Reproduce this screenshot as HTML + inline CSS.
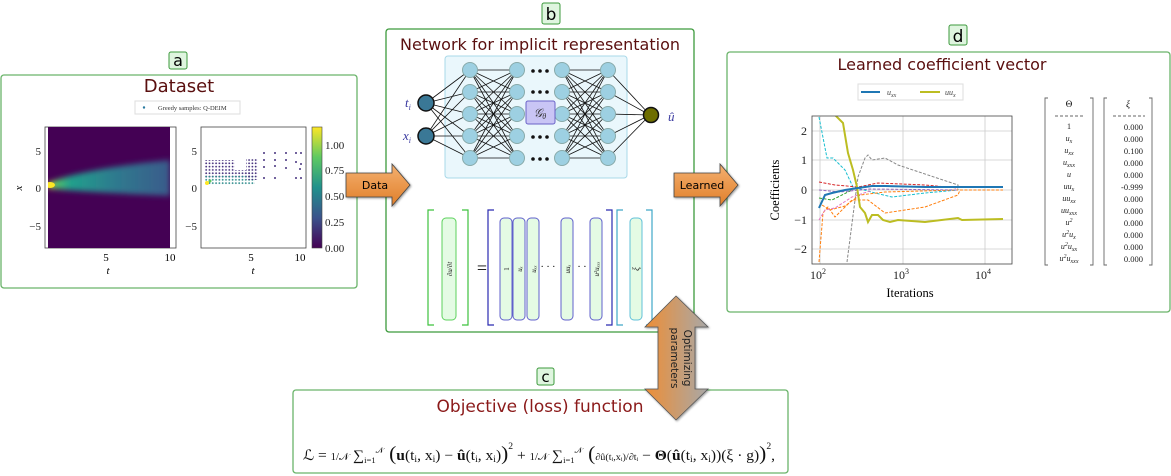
<!DOCTYPE html>
<html><head><meta charset="utf-8"><style>
html,body{margin:0;padding:0;background:#fff}
svg{display:block}
text{font-family:"Liberation Serif",serif}
.s{font-family:"DejaVu Sans","Liberation Sans",sans-serif}
</style></head><body>
<svg width="1171" height="476" viewBox="0 0 1171 476" xmlns="http://www.w3.org/2000/svg">
<defs>
<linearGradient id="og" x1="0" y1="0" x2="0" y2="1"><stop offset="0" stop-color="#f4b070"/><stop offset="1" stop-color="#e07f2a"/></linearGradient>
<linearGradient id="dg" x1="0" y1="0" x2="1" y2="0"><stop offset="0" stop-color="#ee8e35"/><stop offset="1" stop-color="#a8a8a8"/></linearGradient>
<linearGradient id="plume" x1="0" y1="0" x2="1" y2="0"><stop offset="0" stop-color="#fde725"/><stop offset="0.05" stop-color="#5ec962"/><stop offset="0.18" stop-color="#21a08c"/><stop offset="0.55" stop-color="#2e7a8e"/><stop offset="1" stop-color="#3b5b8b"/></linearGradient>
<linearGradient id="cb" x1="0" y1="1" x2="0" y2="0"><stop offset="0" stop-color="#440154"/><stop offset="0.25" stop-color="#3b528b"/><stop offset="0.5" stop-color="#21918c"/><stop offset="0.75" stop-color="#5ec962"/><stop offset="1" stop-color="#fde725"/></linearGradient>
<filter id="bl" x="-20%" y="-50%" width="140%" height="200%"><feGaussianBlur stdDeviation="3"/></filter>
<pattern id="dp" width="3.3" height="3.3" patternUnits="userSpaceOnUse"><circle cx="1.6" cy="1.6" r="0.9" fill="#46327e"/></pattern>
<pattern id="dp2" width="3.3" height="3.3" patternUnits="userSpaceOnUse"><circle cx="1.6" cy="1.6" r="0.9" fill="#2c8a8a"/></pattern>
<filter id="sh"><feDropShadow dx="1" dy="1" stdDeviation="1" flood-opacity="0.4"/></filter>
</defs>

<!-- Panel a -->
<rect x="1" y="75" width="356" height="213" rx="3" fill="#fff" stroke="#6ab46a" stroke-width="1.3"/>
<rect x="169" y="52" width="18" height="17" rx="2" fill="#dff5df" stroke="#3c9a3c"/>
<text x="178" y="66" class="s" font-size="16" text-anchor="middle">a</text>
<text x="179" y="92" class="s" font-size="18" fill="#5a0f0f" text-anchor="middle">Dataset</text>
<rect x="135" y="101" width="105" height="13" fill="#fff" stroke="#ddd"/>
<circle cx="144" cy="107.5" r="1.2" fill="#2a7aa0"/>
<text x="158" y="110" font-size="6.5" fill="#333">Greedy samples: Q-DEIM</text>
<rect x="45" y="127" width="131" height="121" fill="#fff" stroke="#444" stroke-width="0.8"/>
<rect x="48" y="127" width="122" height="121" fill="#440154"/>
<clipPath id="c1"><rect x="48" y="127" width="122" height="121"/></clipPath>
<g clip-path="url(#c1)">
<path d="M48,183 C70,174 110,166 170,160 L170,196 C110,193 70,191 48,188 Z" fill="url(#plume)" filter="url(#bl)"/>
<ellipse cx="50" cy="185" rx="5" ry="3" fill="#fde725"/>
</g>
<g font-size="11" fill="#222" text-anchor="end">
<text x="41" y="155">5</text><text x="41" y="192">0</text><text x="41" y="230">−5</text>
</g>
<text x="106" y="261" font-size="11" text-anchor="middle">5</text>
<text x="170" y="261" font-size="11" text-anchor="middle">10</text>
<text x="108" y="274" font-size="11" font-style="italic" text-anchor="middle">t</text>
<text x="22" y="188" font-size="11" font-style="italic" transform="rotate(-90 22 188)" text-anchor="middle">x</text>
<rect x="201" y="127" width="105" height="121" fill="#fff" stroke="#444" stroke-width="0.8"/>
<rect x="205" y="160" width="30" height="10" fill="url(#dp)"/>
<rect x="205" y="170" width="45" height="8" fill="url(#dp)"/>
<rect x="205" y="176" width="50" height="9" fill="url(#dp2)"/>
<rect x="246" y="159" width="12" height="21" fill="url(#dp)"/>
<g fill="#46327e">
<circle cx="264" cy="153" r="1"/><circle cx="275" cy="153" r="1"/><circle cx="286" cy="153" r="1"/><circle cx="296" cy="153" r="1"/><circle cx="301" cy="153" r="1"/>
<circle cx="264" cy="160" r="1"/><circle cx="275" cy="160" r="1"/><circle cx="286" cy="160" r="1"/><circle cx="296" cy="162" r="1"/><circle cx="301" cy="164" r="1"/>
<circle cx="264" cy="167" r="1"/><circle cx="275" cy="166" r="1"/><circle cx="286" cy="168" r="1"/><circle cx="300" cy="169" r="1"/>
<circle cx="264" cy="178" r="1"/><circle cx="275" cy="178" r="1"/><circle cx="296" cy="178" r="1"/><circle cx="301" cy="178" r="1"/>
</g>
<circle cx="207" cy="183" r="2" fill="#fde725"/><circle cx="210" cy="181" r="1.5" fill="#5ec962"/>
<g font-size="11" fill="#222" text-anchor="end">
<text x="197" y="155">5</text><text x="197" y="192">0</text><text x="197" y="230">−5</text>
</g>
<text x="251" y="261" font-size="11" text-anchor="middle">5</text>
<text x="300" y="261" font-size="11" text-anchor="middle">10</text>
<text x="253" y="274" font-size="11" font-style="italic" text-anchor="middle">t</text>
<rect x="312" y="127" width="10" height="121" fill="url(#cb)" stroke="#444" stroke-width="0.6"/>
<g font-size="11" fill="#222">
<text x="325" y="149">1.00</text><text x="325" y="174">0.75</text><text x="325" y="200">0.50</text><text x="325" y="226">0.25</text><text x="325" y="252">0.00</text>
</g>

<!-- Panel b -->
<rect x="386" y="29" width="308" height="303" rx="3" fill="#fff" stroke="#3c9a3c" stroke-width="1.3"/>
<rect x="542" y="3" width="18" height="21" rx="2" fill="#dff5df" stroke="#3c9a3c"/>
<text x="551" y="20" class="s" font-size="17" text-anchor="middle">b</text>
<text x="540" y="50" class="s" font-size="16" fill="#5a0f0f" text-anchor="middle">Network for implicit representation</text>
<rect x="445" y="56" width="182" height="122" rx="3" fill="#eaf7fc" stroke="#a8d8e8"/>
<g stroke="#111" stroke-width="0.8">
<path d="M426,103 L470,70 M426,103 L470,92 M426,103 L470,114 M426,103 L470,136 M426,103 L470,158 M426,136 L470,70 M426,136 L470,92 M426,136 L470,114 M426,136 L470,136 M426,136 L470,158"/>
<path d="M470,70 L517,70 M470,70 L517,92 M470,70 L517,114 M470,70 L517,136 M470,70 L517,158 M470,92 L517,70 M470,92 L517,92 M470,92 L517,114 M470,92 L517,136 M470,92 L517,158 M470,114 L517,70 M470,114 L517,92 M470,114 L517,114 M470,114 L517,136 M470,114 L517,158 M470,136 L517,70 M470,136 L517,92 M470,136 L517,114 M470,136 L517,136 M470,136 L517,158 M470,158 L517,70 M470,158 L517,92 M470,158 L517,114 M470,158 L517,136 M470,158 L517,158"/>
<path d="M562,70 L608,70 M562,70 L608,92 M562,70 L608,114 M562,70 L608,136 M562,70 L608,158 M562,92 L608,70 M562,92 L608,92 M562,92 L608,114 M562,92 L608,136 M562,92 L608,158 M562,114 L608,70 M562,114 L608,92 M562,114 L608,114 M562,114 L608,136 M562,114 L608,158 M562,136 L608,70 M562,136 L608,92 M562,136 L608,114 M562,136 L608,136 M562,136 L608,158 M562,158 L608,70 M562,158 L608,92 M562,158 L608,114 M562,158 L608,136 M562,158 L608,158"/>
<path d="M608,70 L650,115 M608,92 L650,115 M608,114 L650,115 M608,136 L650,115 M608,158 L650,115"/>
</g>
<g fill="#9dd0e2" stroke="#8aa" stroke-width="1">
<circle cx="470" cy="70" r="7.5"/><circle cx="470" cy="92" r="7.5"/><circle cx="470" cy="114" r="7.5"/><circle cx="470" cy="136" r="7.5"/><circle cx="470" cy="158" r="7.5"/>
<circle cx="517" cy="70" r="7.5"/><circle cx="517" cy="92" r="7.5"/><circle cx="517" cy="114" r="7.5"/><circle cx="517" cy="136" r="7.5"/><circle cx="517" cy="158" r="7.5"/>
<circle cx="562" cy="70" r="7.5"/><circle cx="562" cy="92" r="7.5"/><circle cx="562" cy="114" r="7.5"/><circle cx="562" cy="136" r="7.5"/><circle cx="562" cy="158" r="7.5"/>
<circle cx="608" cy="70" r="7.5"/><circle cx="608" cy="92" r="7.5"/><circle cx="608" cy="114" r="7.5"/><circle cx="608" cy="136" r="7.5"/><circle cx="608" cy="158" r="7.5"/>
</g>
<g fill="#111"><circle cx="533" cy="71" r="1.8"/><circle cx="540" cy="71" r="1.8"/><circle cx="547" cy="71" r="1.8"/>
<circle cx="533" cy="92" r="1.8"/><circle cx="540" cy="92" r="1.8"/><circle cx="547" cy="92" r="1.8"/>
<circle cx="533" cy="137" r="1.8"/><circle cx="540" cy="137" r="1.8"/><circle cx="547" cy="137" r="1.8"/>
<circle cx="533" cy="159" r="1.8"/><circle cx="540" cy="159" r="1.8"/><circle cx="547" cy="159" r="1.8"/></g>
<rect x="526" y="101" width="29" height="23" rx="2" fill="#c9c5f5" stroke="#6a62c8"/>
<text x="540" y="117" font-size="12" font-style="italic" fill="#333" text-anchor="middle">𝒢<tspan font-size="8" dy="2">θ</tspan></text>
<circle cx="426" cy="103" r="8" fill="#3a7896" stroke="#111" stroke-width="1.5"/>
<circle cx="426" cy="136" r="8" fill="#3a7896" stroke="#111" stroke-width="1.5"/>
<circle cx="651" cy="115" r="7.5" fill="#6e6e00" stroke="#111" stroke-width="1.5"/>
<text x="405" y="107" font-size="13" font-style="italic" fill="#3a3aa0">t<tspan font-size="8" dy="3">i</tspan></text>
<text x="403" y="140" font-size="13" font-style="italic" fill="#3a3aa0">x<tspan font-size="8" dy="3">i</tspan></text>
<text x="668" y="121" font-size="13" font-style="italic" fill="#3a3aa0">û</text>
<g fill="none" stroke-width="1.2">
<path d="M434,210 H428 V325 H434 M462,210 H468 V325 H462" stroke="#3ec23e"/>
<path d="M494,210 H488 V325 H494 M606,210 H612 V325 H606" stroke="#2a2ab0"/>
<path d="M623,210 H617 V325 H623 M646,210 H652 V325 H646" stroke="#40a8c8"/>
</g>
<rect x="442" y="218" width="14" height="102" rx="4" fill="#e4fbe4" stroke="#5cd25c"/>
<g fill="#e4fbe4" stroke="#6060cc">
<rect x="500" y="218" width="12" height="102" rx="4"/><rect x="513" y="218" width="12" height="102" rx="4"/><rect x="527" y="218" width="12" height="102" rx="4"/>
<rect x="561" y="218" width="12" height="102" rx="4"/><rect x="590" y="218" width="12" height="102" rx="4"/>
</g>
<rect x="630" y="218" width="12" height="102" rx="4" fill="#e4fbe4" stroke="#60c0d8"/>
<text x="482" y="274" font-size="18" text-anchor="middle">=</text>
<text x="548" y="270" font-size="10" text-anchor="middle">· · ·</text>
<text x="582" y="270" font-size="10" text-anchor="middle">· ·</text>
<g font-size="7" font-style="italic" fill="#222">
<text transform="translate(452,269) rotate(-90)" text-anchor="middle">∂u/∂t</text>
<text transform="translate(509,269) rotate(-90)" text-anchor="middle" font-style="normal">1</text>
<text transform="translate(522,269) rotate(-90)" text-anchor="middle">uₓ</text>
<text transform="translate(536,269) rotate(-90)" text-anchor="middle">uₓₓ</text>
<text transform="translate(570,269) rotate(-90)" text-anchor="middle">uuₓ</text>
<text transform="translate(599,269) rotate(-90)" text-anchor="middle">u²uₓₓₓ</text>
<text transform="translate(639,269) rotate(-90)" text-anchor="middle" font-size="9">ξ</text>
</g>

<!-- Panel d -->
<rect x="727" y="52" width="443" height="260" rx="3" fill="#fff" stroke="#6ab46a" stroke-width="1.3"/>
<rect x="949" y="25" width="18" height="20" rx="2" fill="#dff5df" stroke="#3c9a3c"/>
<text x="958" y="42" class="s" font-size="17" text-anchor="middle">d</text>
<text x="942" y="70" class="s" font-size="16" fill="#5a0f0f" text-anchor="middle">Learned coefficient vector</text>
<rect x="858" y="84" width="105" height="16" fill="#fff" stroke="#ddd"/>
<line x1="861" y1="92" x2="880" y2="92" stroke="#1f77b4" stroke-width="2"/>
<text x="887" y="95" font-size="8" font-style="italic" fill="#444">u<tspan font-size="6" dy="2">xx</tspan></text>
<line x1="920" y1="92" x2="940" y2="92" stroke="#bcbd22" stroke-width="2"/>
<text x="945" y="95" font-size="8" font-style="italic" fill="#444">uu<tspan font-size="6" dy="2">x</tspan></text>
<clipPath id="c2"><rect x="812" y="116" width="200" height="148"/></clipPath>
<rect x="812" y="116" width="200" height="148" fill="#fff"/>
<g stroke="#ccc" stroke-width="0.8">
<line x1="812" y1="131" x2="1012" y2="131"/><line x1="812" y1="160" x2="1012" y2="160"/><line x1="812" y1="190" x2="1012" y2="190"/><line x1="812" y1="220" x2="1012" y2="220"/><line x1="812" y1="249" x2="1012" y2="249"/>
<line x1="820" y1="116" x2="820" y2="264"/><line x1="903" y1="116" x2="903" y2="264"/><line x1="985" y1="116" x2="985" y2="264"/>
</g>
<g clip-path="url(#c2)" fill="none" stroke-dasharray="3,1.5" stroke-width="1">
<polyline stroke="#888" points="847,262 858,177 865,158 868,155 872,160 885,158 898,165 958,185 958,190"/>
<polyline stroke="#17becf" points="819,117 827,158 833,158 845,170 853,187 875,193 892,197 925,193 958,190"/>
<polyline stroke="#ff7f0e" points="819,262 823,213 828,207 835,217 852,200 868,200 885,213 925,207 958,195 960,190 1003,190"/>
<polyline stroke="#ff7f0e" points="822,205 830,210 845,206 860,195 885,192 958,190"/>
<polyline stroke="#d62728" points="819,182 835,185 858,187 878,183 925,185 958,188"/>
<polyline stroke="#e377c2" points="819,220 825,210 835,208 852,197 870,191"/>
<polyline stroke="#2ca02c" points="819,198 832,200 852,190"/>
<polyline stroke="#9467bd" points="819,190 840,192 870,189 958,190"/>
</g>
<g clip-path="url(#c2)" fill="none" stroke-width="2">
<polyline stroke="#bcbd22" points="835,115 843,123 848,153 853,170 857,187 860,207 865,213 868,222 872,215 878,215 883,220 890,222 898,220 925,222 958,218 962,220 1003,219"/>
<polyline stroke="#1f77b4" points="819,208 825,195 832,193 845,190 858,188 872,186 885,186 925,187 1003,187"/>
</g>
<rect x="812" y="116" width="200" height="148" fill="none" stroke="#444" stroke-width="0.8"/>
<g font-size="12" fill="#222" text-anchor="end">
<text x="807" y="135">2</text><text x="807" y="164">1</text><text x="807" y="194">0</text><text x="807" y="224">−1</text><text x="807" y="253">−2</text>
</g>
<g font-size="12" fill="#222" text-anchor="middle">
<text x="818" y="279">10<tspan font-size="8" dy="-5">2</tspan></text>
<text x="901" y="279">10<tspan font-size="8" dy="-5">3</tspan></text>
<text x="983" y="279">10<tspan font-size="8" dy="-5">4</tspan></text>
</g>
<text x="910" y="297" font-size="12.5" text-anchor="middle">Iterations</text>
<text x="779" y="190" font-size="12.5" text-anchor="middle" transform="rotate(-90 779 190)">Coefficients</text>
<g fill="none" stroke="#666" stroke-width="0.9">
<path d="M1048,98 H1045 V265 H1048 M1090,98 H1093 V265 H1090"/>
<path d="M1107,98 H1104 V265 H1107 M1149,98 H1152 V265 H1149"/>
<path d="M1055,116 H1085 M1113,116 H1145" stroke-dasharray="3,2"/>
</g>
<text x="1069" y="107" font-size="9" text-anchor="middle">Θ</text>
<text x="1128" y="107" font-size="9" font-style="italic" text-anchor="middle">ξ</text>
<g font-size="8" font-style="italic" text-anchor="middle" fill="#222">
<text x="1069" y="129" font-style="normal">1</text>
<text x="1069" y="141">u<tspan font-size="6" dy="2">x</tspan></text>
<text x="1069" y="153">u<tspan font-size="6" dy="2">xx</tspan></text>
<text x="1069" y="165">u<tspan font-size="6" dy="2">xxx</tspan></text>
<text x="1069" y="177">u</text>
<text x="1069" y="189">uu<tspan font-size="6" dy="2">x</tspan></text>
<text x="1069" y="201">uu<tspan font-size="6" dy="2">xx</tspan></text>
<text x="1069" y="213">uu<tspan font-size="6" dy="2">xxx</tspan></text>
<text x="1069" y="225">u<tspan font-size="6" dy="-3">2</tspan></text>
<text x="1069" y="237">u<tspan font-size="6" dy="-3">2</tspan><tspan dy="3">u</tspan><tspan font-size="6" dy="2">x</tspan></text>
<text x="1069" y="249">u<tspan font-size="6" dy="-3">2</tspan><tspan dy="3">u</tspan><tspan font-size="6" dy="2">xx</tspan></text>
<text x="1069" y="261">u<tspan font-size="6" dy="-3">2</tspan><tspan dy="3">u</tspan><tspan font-size="6" dy="2">xxx</tspan></text>
</g>
<g font-size="8.5" font-family="Liberation Sans" text-anchor="end" fill="#222">
<text x="1143" y="130">0.000</text><text x="1143" y="142">0.000</text><text x="1143" y="154">0.100</text><text x="1143" y="166">0.000</text>
<text x="1143" y="178">0.000</text><text x="1143" y="190">-0.999</text><text x="1143" y="202">0.000</text><text x="1143" y="214">0.000</text>
<text x="1143" y="226">0.000</text><text x="1143" y="238">0.000</text><text x="1143" y="250">0.000</text><text x="1143" y="262">0.000</text>
</g>

<!-- Panel c -->
<rect x="293" y="390" width="495" height="83" rx="3" fill="#fff" stroke="#6ab46a" stroke-width="1.3"/>
<rect x="537" y="368" width="17" height="17" rx="2" fill="#dff5df" stroke="#3c9a3c"/>
<text x="545.5" y="382" class="s" font-size="15" text-anchor="middle">c</text>
<text x="540" y="412" class="s" font-size="17" fill="#8b1a1a" text-anchor="middle">Objective (loss) function</text>
<text x="303" y="460" font-size="14.5" fill="#111" textLength="472" lengthAdjust="spacingAndGlyphs">ℒ = <tspan font-size="10">1/𝒩</tspan> ∑<tspan font-size="8" dy="3">i=1</tspan><tspan font-size="8" dy="-10">𝒩</tspan><tspan dy="7" font-size="20"> (</tspan><tspan font-weight="bold">u</tspan>(t<tspan font-size="9" dy="2">i</tspan><tspan dy="-2">, x</tspan><tspan font-size="9" dy="2">i</tspan><tspan dy="-2">) − </tspan><tspan font-weight="bold">û</tspan>(t<tspan font-size="9" dy="2">i</tspan><tspan dy="-2">, x</tspan><tspan font-size="9" dy="2">i</tspan><tspan dy="-2">)</tspan><tspan font-size="20">)</tspan><tspan font-size="9" dy="-11">2</tspan><tspan dy="11"> + </tspan><tspan font-size="10">1/𝒩</tspan> ∑<tspan font-size="8" dy="3">i=1</tspan><tspan font-size="8" dy="-10">𝒩</tspan><tspan dy="7" font-size="20"> (</tspan><tspan font-size="9.5">∂û(tᵢ,xᵢ)/∂tᵢ</tspan> − <tspan font-weight="bold">Θ</tspan>(<tspan font-weight="bold">û</tspan>(t<tspan font-size="9" dy="2">i</tspan><tspan dy="-2">, x</tspan><tspan font-size="9" dy="2">i</tspan><tspan dy="-2">))(ξ · g)</tspan><tspan font-size="20">)</tspan><tspan font-size="9" dy="-11">2</tspan><tspan dy="11">,</tspan></text>

<!-- arrows -->
<path d="M346,173 H392 V164 L410,185 L392,206 V197 H346 Z" fill="url(#og)" stroke="#444" stroke-width="0.8" filter="url(#sh)"/>
<text x="375" y="189" class="s" font-size="11" text-anchor="middle">Data</text>
<path d="M674,173 H720 V164 L738,185 L720,206 V197 H674 Z" fill="url(#og)" stroke="#444" stroke-width="0.8" filter="url(#sh)"/>
<text x="702" y="189" class="s" font-size="11" text-anchor="middle">Learned</text>
<path d="M676,296 L708,327 H695 V389 H708 L676,420 L645,389 H658 V327 H645 Z" fill="url(#dg)" stroke="#555" stroke-width="0.8" filter="url(#sh)"/>
<text transform="translate(684,358) rotate(90)" class="s" font-size="10.5" text-anchor="middle" fill="#222">Optimizing</text>
<text transform="translate(671,358) rotate(90)" class="s" font-size="10.5" text-anchor="middle" fill="#222">parameters</text>
</svg>
</body></html>
